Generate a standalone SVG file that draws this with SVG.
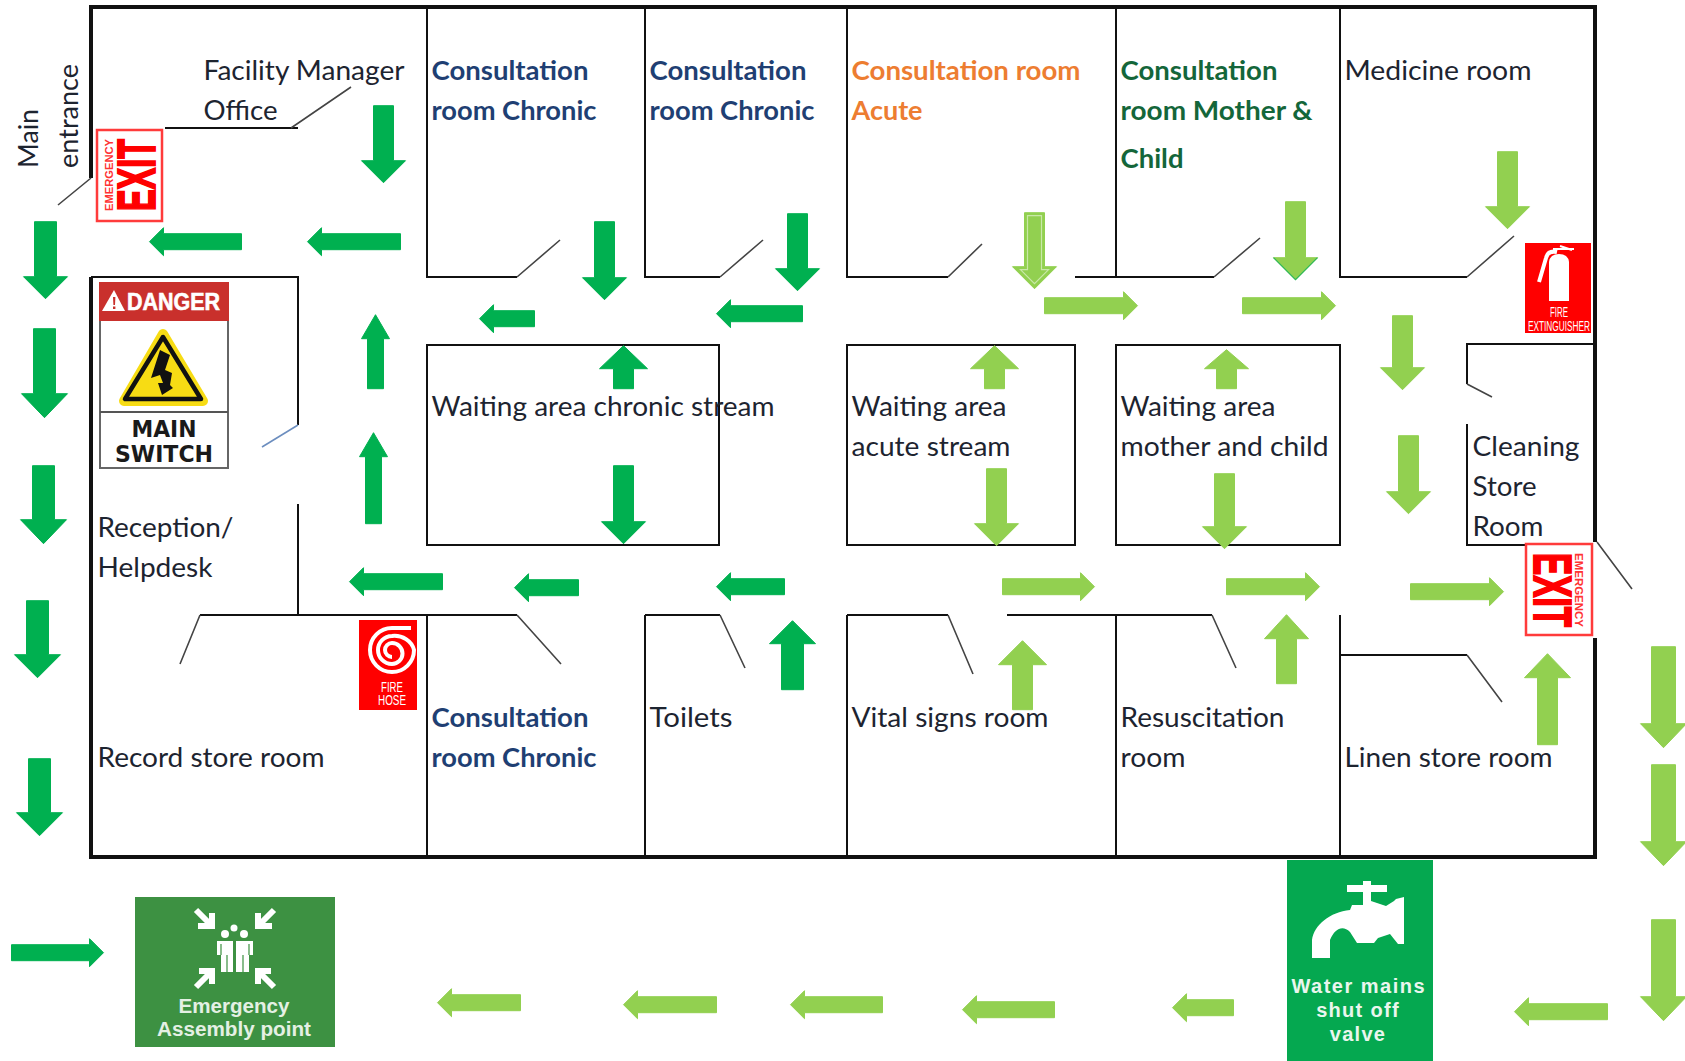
<svg xmlns="http://www.w3.org/2000/svg" width="1685" height="1061" viewBox="0 0 1685 1061">
<style>
.w{fill:none;stroke:#111;stroke-width:2}
.o{fill:none;stroke:#111;stroke-width:4}
.d{fill:none;stroke:#444;stroke-width:1.6}
.dk{fill:#00B050;stroke:#00B050;stroke-width:1;stroke-linejoin:round}
.lt{fill:#92D050;stroke:#92D050;stroke-width:1;stroke-linejoin:round}
.t{font-family:Lato,"Liberation Sans",sans-serif;font-size:26px;fill:#1d2430}
.b{fill:#1F3F73;font-weight:700}
.or{fill:#ED7D31;font-weight:700}
.gr{fill:#14663A;font-weight:700}
.s{font-family:"Liberation Sans",Arial,sans-serif;font-weight:700}
.dj{font-family:"DejaVu Sans",sans-serif;font-weight:700}
.wh{fill:#fff}
.ws{fill:none;stroke:#fff;stroke-width:6}
</style>
<rect width="1685" height="1061" fill="#fff"/>
<g id="walls">
<path class="o" d="M91 178V7H1595V542M91 277V857H1595V638"/>
<path class="w" d="M427 7V277H517M645 7V277H720M847 7V277H948M1116 7V277M1075 277H1214M1340 7V277H1467"/>
<path class="w" d="M165 128H298M91 277H298V425M298 504V615M200 615H517M427 615V856M645 615V856M645 615H720M847 615V856M847 615H948M1007 615H1212M1116 615V856M1340 615V856M1340 655H1467"/>
<path class="w" d="M427 345H719V545H427ZM847 345H1075V545H847ZM1116 345H1340V545H1116ZM1595 344H1467V384M1467 424V545H1525"/>
</g>
<g id="doors">
<path class="d" d="M91 178L58 205M291 128L351 87M517 277L560 240M720 277L763 240M948 277L982 244M1214 277L1260 238M1467 277L1514 236M1467 384L1492 397M1597 542L1632 589M517 615L561 664M200 615L180 664M720 615L745 668M948 615L973 674M1212 615L1236 668M1467 655L1502 702"/>
<path d="M298 425L262 447" fill="none" stroke="#6C8EBF" stroke-width="1.6"/>
</g>
<g id="connectors" transform="translate(0.5,0.7)">
<g id="dark-arrows" class="dk">
<polygon points="373,105 393,105 393,160 405,160 383,182 361,160 373,160"/>
<polygon points="34,221 56,221 56,276 67,276 45,298 23,276 34,276"/>
<polygon points="33,328 55,328 55,393 67,393 44,417 21,393 33,393"/>
<polygon points="32,465 54,465 54,519 66,519 43,543 20,519 32,519"/>
<polygon points="26,600 48,600 48,654 60,654 37,677 14,654 26,654"/>
<polygon points="28,758 50,758 50,812 62,812 39,835 16,812 28,812"/>
<polygon points="594,221 614,221 614,277 626,277 604,299 582,277 594,277"/>
<polygon points="787,213 807,213 807,268 819,268 797,290 775,268 787,268"/>
<polygon points="613,465 633,465 633,521 645,521 623,543 601,521 613,521"/>
<polygon points="367,388 383,388 383,338 389,338 375,314 361,338 367,338"/>
<polygon points="365,523 381,523 381,456 387,456 373,432 359,456 365,456"/>
<polygon points="613,388 633,388 633,368 647,368 623,345 599,368 613,368"/>
<polygon points="781,689 803,689 803,643 815,643 792,620 769,643 781,643"/>
<polygon points="149,241 163,227 163,233 241,233 241,249 163,249 163,255"/>
<polygon points="307,241 321,227 321,233 400,233 400,249 321,249 321,255"/>
<polygon points="479,318 493,304 493,310 534,310 534,326 493,326 493,332"/>
<polygon points="716,313 730,299 730,305 802,305 802,321 730,321 730,327"/>
<polygon points="349,581 363,567 363,573 442,573 442,589 363,589 363,595"/>
<polygon points="514,587 528,573 528,579 578,579 578,595 528,595 528,601"/>
<polygon points="716,586 730,572 730,578 784,578 784,594 730,594 730,600"/>
<polygon points="103,952 89,938 89,944 11,944 11,960 89,960 89,966"/>
</g>
<g id="light-arrows" class="lt">
<polygon points="1024,212 1044,212 1044,266 1056,266 1034,288 1012,266 1024,266"/>
<polygon points="1285,201 1305,201 1305,257 1317,257 1295,279 1273,257 1285,257"/>
<polygon points="1497,151 1517,151 1517,206 1529,206 1507,228 1485,206 1497,206"/>
<polygon points="1392,315 1412,315 1412,367 1424,367 1402,389 1380,367 1392,367"/>
<polygon points="1398,435 1418,435 1418,491 1430,491 1408,513 1386,491 1398,491"/>
<polygon points="986,468 1006,468 1006,523 1018,523 996,545 974,523 986,523"/>
<polygon points="1214,473 1234,473 1234,526 1246,526 1224,548 1202,526 1214,526"/>
<polygon points="1651,646 1675,646 1675,723 1686,723 1663,747 1640,723 1651,723"/>
<polygon points="1651,764 1675,764 1675,841 1686,841 1663,865 1640,841 1651,841"/>
<polygon points="1651,919 1675,919 1675,996 1686,996 1663,1020 1640,996 1651,996"/>
<polygon points="984,388 1004,388 1004,368 1018,368 994,345 970,368 984,368"/>
<polygon points="1216,388 1236,388 1236,368 1248,368 1226,349 1204,368 1216,368"/>
<polygon points="1012,709 1032,709 1032,664 1046,664 1022,640 998,664 1012,664"/>
<polygon points="1276,683 1296,683 1296,638 1308,638 1286,614 1264,638 1276,638"/>
<polygon points="1537,744 1557,744 1557,677 1570,677 1547,653 1524,677 1537,677"/>
<polygon points="437,1002 451,988 451,994 520,994 520,1010 451,1010 451,1016"/>
<polygon points="623,1004 637,990 637,996 716,996 716,1012 637,1012 637,1018"/>
<polygon points="790,1004 804,990 804,996 882,996 882,1012 804,1012 804,1018"/>
<polygon points="962,1009 976,995 976,1001 1054,1001 1054,1017 976,1017 976,1023"/>
<polygon points="1172,1007 1186,993 1186,999 1233,999 1233,1015 1186,1015 1186,1021"/>
<polygon points="1514,1011 1528,997 1528,1003 1607,1003 1607,1019 1528,1019 1528,1025"/>
<polygon points="1137,305 1123,291 1123,297 1044,297 1044,313 1123,313 1123,319"/>
<polygon points="1335,305 1321,291 1321,297 1242,297 1242,313 1321,313 1321,319"/>
<polygon points="1094,586 1080,572 1080,578 1002,578 1002,594 1080,594 1080,600"/>
<polygon points="1319,586 1305,572 1305,578 1226,578 1226,594 1305,594 1305,600"/>
<polygon points="1503,591 1489,577 1489,583 1410,583 1410,599 1489,599 1489,605"/>
</g>
<polygon points="1027,215 1041,215 1041,269 1048,269 1034,283 1020,269 1027,269" fill="none" stroke="#C9E8A8" stroke-width="1.2"/>
<path d="M1273 257L1295 279L1317 257" fill="none" stroke="#2DB85A" stroke-width="1.2"/>
</g>
<g id="labels" class="t" transform="translate(-0.5,1)">
<text transform="translate(38,167) rotate(-90)" textLength="59" lengthAdjust="spacingAndGlyphs">Main</text>
<text transform="translate(78,167) rotate(-90)" textLength="104" lengthAdjust="spacingAndGlyphs">entrance</text>
<text x="204" y="79" textLength="201" lengthAdjust="spacingAndGlyphs">Facility Manager</text>
<text x="204" y="119" textLength="74" lengthAdjust="spacingAndGlyphs">Office</text>
<text class="b" x="432" y="79" textLength="157" lengthAdjust="spacingAndGlyphs">Consultation</text>
<text class="b" x="432" y="119" textLength="165" lengthAdjust="spacingAndGlyphs">room Chronic</text>
<text class="b" x="650" y="79" textLength="157" lengthAdjust="spacingAndGlyphs">Consultation</text>
<text class="b" x="650" y="119" textLength="165" lengthAdjust="spacingAndGlyphs">room Chronic</text>
<text class="or" x="852" y="79" textLength="229" lengthAdjust="spacingAndGlyphs">Consultation room</text>
<text class="or" x="852" y="119" textLength="71" lengthAdjust="spacingAndGlyphs">Acute</text>
<text class="gr" x="1121" y="79" textLength="157" lengthAdjust="spacingAndGlyphs">Consultation</text>
<text class="gr" x="1121" y="119" textLength="192" lengthAdjust="spacingAndGlyphs">room Mother &amp;</text>
<text class="gr" x="1121" y="167" textLength="63" lengthAdjust="spacingAndGlyphs">Child</text>
<text x="1345" y="79" textLength="187" lengthAdjust="spacingAndGlyphs">Medicine room</text>
<text x="432" y="415" textLength="343" lengthAdjust="spacingAndGlyphs">Waiting area chronic stream</text>
<text x="852" y="415" textLength="155" lengthAdjust="spacingAndGlyphs">Waiting area</text>
<text x="852" y="455" textLength="159" lengthAdjust="spacingAndGlyphs">acute stream</text>
<text x="1121" y="415" textLength="155" lengthAdjust="spacingAndGlyphs">Waiting area</text>
<text x="1121" y="455" textLength="208" lengthAdjust="spacingAndGlyphs">mother and child</text>
<text x="1473" y="455" textLength="107" lengthAdjust="spacingAndGlyphs">Cleaning</text>
<text x="1473" y="495" textLength="64" lengthAdjust="spacingAndGlyphs">Store</text>
<text x="1473" y="535" textLength="71" lengthAdjust="spacingAndGlyphs">Room</text>
<text x="98" y="536" textLength="136" lengthAdjust="spacingAndGlyphs">Reception/</text>
<text x="98" y="576" textLength="115" lengthAdjust="spacingAndGlyphs">Helpdesk</text>
<text x="98" y="766" textLength="227" lengthAdjust="spacingAndGlyphs">Record store room</text>
<text class="b" x="432" y="726" textLength="157" lengthAdjust="spacingAndGlyphs">Consultation</text>
<text class="b" x="432" y="766" textLength="165" lengthAdjust="spacingAndGlyphs">room Chronic</text>
<text x="650" y="726" textLength="83" lengthAdjust="spacingAndGlyphs">Toilets</text>
<text x="852" y="726" textLength="197" lengthAdjust="spacingAndGlyphs">Vital signs room</text>
<text x="1121" y="726" textLength="164" lengthAdjust="spacingAndGlyphs">Resuscitation</text>
<text x="1121" y="766" textLength="65" lengthAdjust="spacingAndGlyphs">room</text>
<text x="1345" y="766" textLength="208" lengthAdjust="spacingAndGlyphs">Linen store room</text>
</g>
<g id="exit-sign-1">
<rect x="97" y="130" width="65" height="91" fill="#fff" stroke="#FF3B3B" stroke-width="2.5"/>
<text class="s" transform="translate(155,211) rotate(-90)" font-size="53" fill="#f00" stroke="#f00" stroke-width="2" textLength="72" lengthAdjust="spacingAndGlyphs">EXIT</text>
<text class="s" transform="translate(113,211) rotate(-90)" font-size="10" fill="#f33" textLength="72" lengthAdjust="spacingAndGlyphs">EMERGENCY</text>
</g>
<g id="exit-sign-2">
<rect x="1526" y="544" width="66" height="91" fill="#fff" stroke="#FF3B3B" stroke-width="2.5"/>
<text class="s" transform="translate(1534,553) rotate(90)" font-size="53" fill="#f00" stroke="#f00" stroke-width="2" textLength="74" lengthAdjust="spacingAndGlyphs">EXIT</text>
<text class="s" transform="translate(1575,553) rotate(90)" font-size="10" fill="#f33" textLength="74" lengthAdjust="spacingAndGlyphs">EMERGENCY</text>
</g>
<g id="main-switch-sign">
<rect x="100" y="283" width="128" height="185" fill="#fff" stroke="#666" stroke-width="2"/>
<rect x="99" y="282" width="130" height="39" fill="#C9302C"/>
<path class="wh" d="M114 290L125 311H102Z"/>
<path d="M113 297h2.4l-.4 8h-1.6ZM113 306.500h2.400v2.400h-2.400Z" fill="#C9302C"/>
<text class="s wh" x="127" y="310" font-size="23" stroke="#fff" stroke-width="0.6" textLength="93" lengthAdjust="spacingAndGlyphs">DANGER</text>
<path d="M163 334L124 401H203Z" fill="#F7DC14" stroke="#F7DC14" stroke-width="10" stroke-linejoin="round"/>
<path d="M163 337L125 399H201Z" fill="#F7DC14" stroke="#111" stroke-width="4.5" stroke-linejoin="round"/>
<polygon points="160,350 170,355 165,370 172,373 170,385 173,388 162,395 158,383 163,383 160,375 151,378" fill="#111"/>
<path d="M100 412H228" stroke="#555" stroke-width="2"/>
<text class="dj" x="164" y="437" font-size="23" text-anchor="middle" fill="#1a1a1a" textLength="65" lengthAdjust="spacingAndGlyphs">MAIN</text>
<text class="dj" x="164" y="462" font-size="23" text-anchor="middle" fill="#1a1a1a" textLength="98" lengthAdjust="spacingAndGlyphs">SWITCH</text>
</g>
<g id="fire-extinguisher-sign">
<rect x="1525" y="243" width="66" height="90" fill="#f00"/>
<path class="wh" d="M1549 301V262Q1550 254 1559 254Q1568 254 1569 262V301Z"/>
<path d="M1557 252Q1548 250 1546 258L1539 282" fill="none" stroke="#fff" stroke-width="4"/>
<path d="M1553 249H1574M1560 246L1572 250" fill="none" stroke="#fff" stroke-width="2"/>
<text class="s wh" x="1559" y="317" font-size="15" text-anchor="middle" textLength="18" lengthAdjust="spacingAndGlyphs" style="font-weight:400">FIRE</text>
<text class="s wh" x="1559" y="331" font-size="15" text-anchor="middle" textLength="62" lengthAdjust="spacingAndGlyphs" style="font-weight:400">EXTINGUISHER</text>
</g>
<g id="fire-hose-sign">
<rect x="359" y="620" width="58" height="90" fill="#f00"/>
<path d="M411 628H392A22 22 0 1 0 414 650A20 18 0 0 0 392 636A14 14 0 0 0 392 664A10.500 10.500 0 0 0 392 643A7 7 0 0 0 392 657" fill="none" stroke="#fff" stroke-width="4"/>
<text class="s wh" x="392" y="692" font-size="14" text-anchor="middle" textLength="22" lengthAdjust="spacingAndGlyphs" style="font-weight:400">FIRE</text>
<text class="s wh" x="392" y="705" font-size="14" text-anchor="middle" textLength="28" lengthAdjust="spacingAndGlyphs" style="font-weight:400">HOSE</text>
</g>
<g id="assembly-point-sign">
<rect x="135" y="897" width="200" height="150" fill="#3D9142"/>
<path class="ws" d="M196 910L212 926M212 913V926H198M274 910L258 926M258 913V926H272M196 987L212 971M199 971H212V984M274 987L258 971M271 971H258V984"/>
<circle class="wh" cx="234" cy="928" r="3.500"/>
<circle class="wh" cx="225" cy="934" r="4"/>
<circle class="wh" cx="244" cy="934" r="4"/>
<path class="wh" d="M217 941H233V972H221V955H217ZM236 941H253V955H249V972H236Z"/>
<path d="M227 955V972M243 955V972M221 944V955M249 944V955" stroke="#3D9142" stroke-width="1.2"/>
<text class="s" x="234" y="1013" font-size="20" text-anchor="middle" fill="#E4F0E4" textLength="111" lengthAdjust="spacingAndGlyphs">Emergency</text>
<text class="s" x="234" y="1036" font-size="20" text-anchor="middle" fill="#E4F0E4" textLength="154" lengthAdjust="spacingAndGlyphs">Assembly point</text>
</g>
<g id="water-mains-sign">
<rect x="1287" y="860" width="146" height="201" fill="#05A850"/>
<path class="wh" d="M1347 885H1363V881H1371V885H1387V892H1371V901L1386 906L1394 901L1396 899L1404 897V944H1398L1390 934L1378 938L1374 943H1357L1350 932C1343 925 1335 928 1330 940V958H1312V940C1314 925 1330 912 1350 910L1352 905H1363V892H1347Z"/>
<text class="s" x="1358" y="993" font-size="20" text-anchor="middle" fill="#EAF6EE" textLength="133" lengthAdjust="spacing">Water mains</text>
<text class="s" x="1358" y="1017" font-size="20" text-anchor="middle" fill="#EAF6EE" letter-spacing="1.300">shut off</text>
<text class="s" x="1358" y="1041" font-size="20" text-anchor="middle" fill="#EAF6EE" letter-spacing="1.300">valve</text>
</g>
</svg>
